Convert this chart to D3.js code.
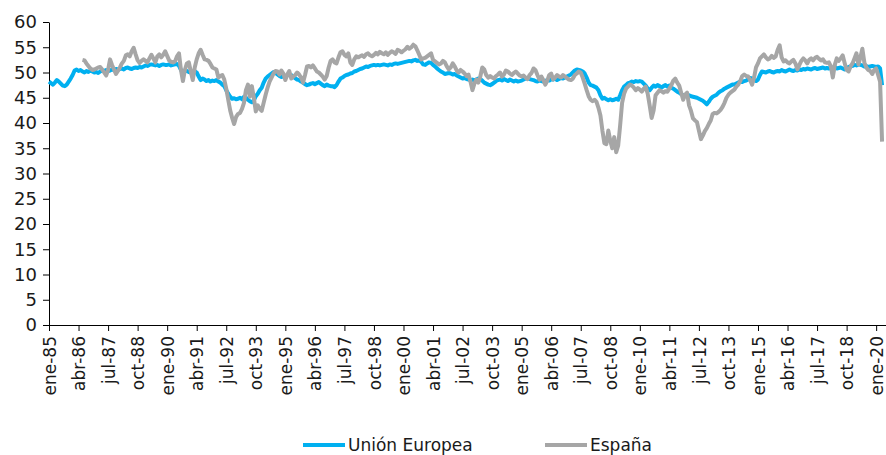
<!DOCTYPE html>
<html>
<head>
<meta charset="utf-8">
<script src="https://cdn.jsdelivr.net/npm/d3@7"></script>
<style>
  body { margin: 0; background: #fff; }
  svg { display: block; }
  svg text { font-family: "DejaVu Sans", sans-serif; }
  .axis text { fill: #1a1a1a; font-size: 17px; font-family: "DejaVu Sans", sans-serif; }
  .axis.y text { font-size: 18px; }
  .axis path, .axis line { stroke: #000; }
  .serie { fill: none; stroke-width: 4; stroke-linejoin: round; }
</style>
</head>
<body>
<svg width="886" height="455"></svg>
<script>

//
// Data, monthly from ene-85 (one line per year)
//
var mesesAbr = ['ene', 'feb', 'mar', 'abr', 'may', 'jun', 'jul', 'ago', 'sep', 'oct', 'nov', 'dic'];
var anioInicio = 1985;

var unionEuropea = [
  48.2, 47.9, 47.6, 48.0, 48.5, 48.2, 47.8, 47.4, 47.3, 47.6, 48.2, 48.8, // 1985
  49.5, 50.4, 50.6, 50.3, 50.5, 50.2, 50.0, 50.3, 50.1, 50.4, 50.2, 50.0,
  50.1, 49.9, 50.2, 50.4, 50.3, 50.5, 50.3, 50.4, 50.6, 50.5, 50.7, 50.6,
  50.7, 50.8, 50.6, 50.9, 51.0, 50.8, 50.7, 50.9, 51.0, 50.9, 51.1, 51.0,
  51.2, 51.4, 51.3, 51.5, 51.6, 51.5, 51.4, 51.5, 51.3, 51.5, 51.6, 51.5,
  51.5, 51.6, 51.4, 51.5, 51.6, 51.7, 51.3, 50.5, 50.2, 50.4, 50.3, 50.1, // 1990
  50.0, 49.8, 50.3, 50.0, 49.2, 48.5, 48.8, 48.6, 48.3, 48.5, 48.2, 48.4,
  48.3, 48.5, 48.2, 48.0, 47.6, 47.3, 46.5, 45.8, 45.2, 44.8, 44.9, 44.7,
  44.8, 45.0, 44.7, 45.2, 45.0, 44.6, 44.3, 44.1, 44.5, 45.3, 45.8, 46.5,
  47.0, 48.0, 48.8, 49.2, 49.5, 49.8, 50.1, 49.9, 49.6, 49.3, 49.1, 49.4,
  49.2, 49.4, 49.6, 49.5, 49.2, 48.9, 48.6, 48.5, 48.2, 48.0, 47.7, 47.5, // 1995
  47.6, 47.8, 47.9, 47.7, 47.9, 48.1, 47.8, 47.5, 47.3, 47.6, 47.4, 47.3,
  47.3, 47.1, 47.5, 48.2, 48.8, 49.0, 49.3, 49.5, 49.6, 49.8, 49.9, 50.2,
  50.3, 50.5, 50.7, 50.8, 51.0, 51.2, 51.1, 51.3, 51.4, 51.5, 51.4, 51.5,
  51.4, 51.5, 51.6, 51.5, 51.4, 51.6, 51.5, 51.7, 51.8, 51.7, 51.8, 51.9,
  52.0, 52.1, 52.2, 52.3, 52.2, 52.4, 52.5, 52.3, 52.4, 52.1, 51.6, 51.5, // 2000
  51.8, 52.0, 51.9, 51.5, 51.2, 50.8, 50.5, 50.2, 50.0, 49.7, 49.8, 49.9,
  49.8, 49.6, 49.7, 49.4, 49.2, 49.0, 48.8, 48.9, 48.7, 48.6, 48.5, 48.6,
  48.4, 48.6, 48.8, 48.7, 48.4, 48.0, 47.8, 47.6, 47.5, 47.7, 48.0, 48.3,
  48.5, 48.6, 48.4, 48.7, 48.5, 48.3, 48.6, 48.4, 48.2, 48.4, 48.2, 48.3,
  48.4, 48.6, 48.8, 48.9, 48.7, 48.6, 48.5, 48.3, 48.2, 48.4, 48.3, 48.2, // 2005
  48.3, 48.5, 48.4, 48.7, 48.6, 48.8, 48.5, 48.7, 48.9, 48.8, 49.0, 49.2,
  49.4, 49.6, 50.0, 50.4, 50.6, 50.5, 50.4, 50.2, 49.8, 49.0, 48.0, 47.5,
  47.4, 47.2, 47.0, 46.5, 45.5, 44.8, 45.0, 44.7, 44.5, 44.7, 44.5, 44.6,
  44.8, 44.6, 45.5, 46.5, 47.2, 47.5, 47.9, 48.0, 48.2, 48.1, 48.3, 48.2,
  48.3, 48.2, 47.8, 47.4, 46.8, 46.5, 47.0, 47.4, 47.2, 47.5, 47.3, 47.0, // 2010
  47.3, 47.5, 47.2, 47.4, 47.0, 46.8, 46.5, 46.2, 46.0, 45.7, 45.5, 45.4,
  45.3, 45.5, 45.3, 45.2, 45.1, 45.0, 44.8, 44.6, 44.4, 44.1, 43.7, 44.2,
  44.8, 45.2, 45.4, 45.6, 46.0, 46.3, 46.5, 46.8, 47.0, 47.2, 47.4, 47.6,
  47.6, 47.8, 48.0, 48.2, 48.1, 48.3, 48.4, 48.6, 48.9, 48.8, 48.5, 48.3,
  48.6, 49.5, 50.2, 50.1, 50.0, 50.2, 50.3, 50.1, 50.0, 50.2, 50.3, 50.2, // 2015
  50.5, 50.3, 50.2, 50.4, 50.6, 50.4, 50.3, 50.5, 50.4, 50.6, 50.5, 50.7,
  50.6, 50.8, 50.7, 50.6, 50.8, 50.9, 50.7, 50.8, 50.9, 51.0, 50.8, 50.9,
  50.8, 51.0, 50.9, 51.1, 50.8, 50.9, 51.0, 50.8, 50.6, 50.9, 51.1, 51.2,
  51.3, 51.5, 51.4, 51.6, 51.5, 51.4, 51.2, 51.3, 51.1, 51.2, 51.3, 51.2,
  51.1, 51.2, 50.8, 47.5                                                  // 2020
];

// Spain starts in jun-86
var espanaInicio = 17;
var espana = [
  52.5, 52.4, 51.8, 51.3, 50.8, 50.5, 50.6,                               // 1986
  50.8, 51.0, 51.1, 50.6, 50.0, 49.4, 50.5, 52.6, 51.5, 50.6, 49.7, 50.3,
  51.0, 51.8, 52.3, 53.4, 53.6, 53.2, 54.2, 54.9, 53.6, 52.4, 51.9, 52.3,
  52.6, 52.3, 52.0, 52.8, 53.5, 52.8, 52.0, 53.2, 53.6, 53.0, 53.5, 54.2,
  53.3, 52.4, 52.1, 52.0, 52.2, 53.2, 53.8, 50.5, 48.3, 50.5, 51.8, 52.0, // 1990
  50.2, 48.5, 51.0, 52.6, 53.8, 54.5, 53.5, 52.6, 52.5, 52.3, 51.7, 51.0,
  50.8, 50.6, 49.0, 49.3, 49.5, 48.6, 46.8, 44.6, 42.5, 41.0, 39.8, 41.2,
  41.8, 42.0, 42.8, 44.0, 46.5, 47.6, 45.2, 47.3, 45.0, 42.3, 43.5, 42.8,
  42.4, 44.0, 45.6, 47.0, 48.2, 49.0, 49.8, 50.3, 50.2, 49.6, 50.4, 49.8,
  48.5, 49.6, 50.3, 48.8, 49.2, 49.5, 50.0, 49.6, 49.0, 48.0, 49.5, 51.2, // 1995
  51.3, 51.0, 51.4, 50.8, 50.2, 50.0, 49.6, 49.2, 48.6, 49.3, 51.0, 52.3,
  52.6, 52.0, 51.8, 53.0, 54.0, 54.2, 53.5, 53.2, 53.8, 52.0, 51.5, 52.6,
  53.2, 53.0, 53.2, 53.4, 53.1, 53.6, 53.8, 53.4, 53.2, 53.5, 53.9, 53.6,
  54.1, 53.8, 53.6, 54.0, 53.5, 53.9, 54.2, 54.0, 53.7, 54.5, 54.3, 54.0,
  54.3, 54.6, 55.1, 54.7, 55.0, 55.5, 55.2, 54.4, 53.5, 52.6, 52.8, 52.9, // 2000
  53.2, 53.5, 53.8, 52.5, 52.2, 51.9, 51.6, 51.8, 52.3, 52.0, 51.2, 50.6,
  51.0, 51.8, 51.2, 50.4, 50.0, 50.5, 50.2, 49.8, 49.3, 49.6, 48.2, 46.5,
  47.8, 48.6, 48.0, 49.2, 51.0, 50.6, 49.5, 49.0, 49.3, 49.0, 48.8, 49.3,
  49.6, 50.0, 49.2, 49.6, 50.4, 50.2, 49.8, 49.5, 49.9, 50.2, 49.8, 49.4,
  49.2, 49.4, 49.0, 48.7, 49.5, 49.9, 50.8, 50.5, 49.5, 48.6, 49.2, 48.5, // 2005
  47.6, 48.4, 49.5, 49.8, 48.6, 49.0, 49.5, 49.2, 49.0, 49.5, 49.2, 48.9,
  48.6, 48.5, 48.8, 49.5, 49.8, 50.2, 50.0, 49.0, 47.8, 46.5, 45.3, 44.6,
  44.3, 44.6, 44.2, 43.0, 41.5, 38.5, 36.0, 35.8, 38.5, 36.5, 35.0, 37.2,
  34.2, 35.5, 39.5, 44.0, 45.8, 46.8, 47.2, 47.6, 47.4, 47.0, 46.5, 46.9,
  46.6, 46.2, 46.8, 47.2, 45.8, 43.5, 41.0, 42.5, 45.5, 46.0, 46.5, 46.3, // 2010
  46.0, 46.3, 46.2, 46.8, 47.5, 48.4, 48.8, 48.0, 47.4, 46.0, 44.6, 45.6,
  46.0, 43.5, 42.4, 40.9, 40.5, 40.2, 38.5, 36.8, 37.5, 38.4, 39.0, 39.8,
  40.5, 41.8, 42.0, 41.9, 42.2, 42.6, 43.2, 44.0, 45.0, 45.6, 46.0, 46.3,
  46.6, 47.2, 47.6, 48.3, 49.3, 49.6, 49.3, 49.2, 48.5, 47.6, 49.0, 51.0,
  51.8, 52.8, 53.2, 53.6, 53.0, 52.6, 52.8, 53.3, 52.9, 53.2, 54.5, 55.4, // 2015
  53.0, 52.2, 52.4, 52.0, 51.8, 52.2, 52.5, 51.8, 50.6, 51.5, 52.3, 52.8,
  52.4, 51.8, 52.5, 52.8, 52.4, 52.9, 53.1, 52.7, 52.4, 52.6, 52.0, 51.9,
  52.0, 51.2, 49.0, 51.5, 52.8, 52.3, 52.8, 53.4, 51.9, 50.5, 50.2, 51.2,
  51.8, 52.8, 53.8, 51.6, 53.0, 54.7, 52.0, 51.0, 50.5, 50.3, 49.7, 50.5,
  50.8, 49.5, 48.2, 36.3                                                  // 2020
];

var yTicks = [0, 5, 10, 15, 20, 25, 30, 35, 40, 45, 50, 55, 60];

var xTickLabels = ['ene-85', 'abr-86', 'jul-87', 'oct-88', 'ene-90', 'abr-91', 'jul-92',
  'oct-93', 'ene-95', 'abr-96', 'jul-97', 'oct-98', 'ene-00', 'abr-01', 'jul-02', 'oct-03',
  'ene-05', 'abr-06', 'jul-07', 'oct-08', 'ene-10', 'abr-11', 'jul-12', 'oct-13', 'ene-15',
  'abr-16', 'jul-17', 'oct-18', 'ene-20'];

var series = [
  {name: 'Unión Europea', color: '#00b0f0', values: unionEuropea, start: 0},
  {name: 'España', color: '#a6a6a6', values: espana, start: espanaInicio}
];

//
// Chart
//
var svg = d3.select('svg');

var x = d3.scaleLinear().domain([0, 425]).range([49, 886]);
var y = d3.scaleLinear().domain([0, 60]).range([325, 22]);

// month index of each tick label (every 15 months)
var tickIndex = xTickLabels.map(function (d) {
  var m = mesesAbr.indexOf(d.split('-')[0]);
  var yy = +d.split('-')[1];
  var yr = yy < 50 ? 2000 + yy : 1900 + yy;
  return (yr - anioInicio) * 12 + m;
});

svg.append('g')
    .attr('class', 'axis y')
    .attr('transform', 'translate(49,0)')
    .call(d3.axisLeft(y).tickValues(yTicks).tickSize(6).tickSizeOuter(0).tickPadding(6));

var xAxis = svg.append('g')
    .attr('class', 'axis')
    .attr('transform', 'translate(0,325)')
    .call(d3.axisBottom(x).tickValues(tickIndex).tickSize(6).tickSizeOuter(0)
      .tickFormat(function (d, i) { return xTickLabels[i]; }));

xAxis.selectAll('text')
    .attr('transform', 'rotate(-90)')
    .attr('x', -11)
    .attr('y', 0)
    .attr('dy', '0.36em')
    .style('text-anchor', 'end');

var line = d3.line()
    .x(function (d) { return x(d.i); })
    .y(function (d) { return y(d.v); });

series.forEach(function (s) {
  var pts = s.values.map(function (v, k) { return {i: s.start + k, v: v}; });
  svg.append('path')
      .datum(pts)
      .attr('class', 'serie')
      .attr('stroke', s.color)
      .attr('d', line);
});

//
// Legend
//
var legendX = [303, 545];
var legend = svg.append('g');
series.forEach(function (s, i) {
  legend.append('line')
      .attr('x1', legendX[i]).attr('x2', legendX[i] + 42)
      .attr('y1', 445).attr('y2', 445)
      .attr('stroke', s.color)
      .attr('stroke-width', 4);
  legend.append('text')
      .attr('x', legendX[i] + 45)
      .attr('y', 451)
      .attr('fill', '#1a1a1a')
      .style('font-size', '17px')
      .text(s.name);
});

</script>
</body>
</html>
